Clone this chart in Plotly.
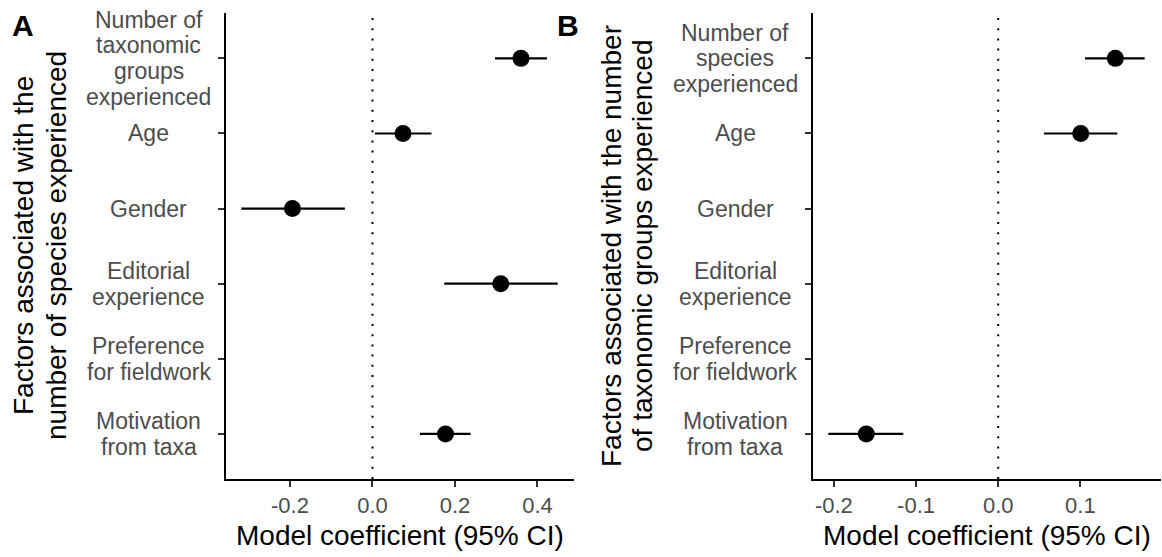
import plotly.graph_objects as go

# ---- data -------------------------------------------------------------
# Panel A: predictors of the number of species experienced
a_labels = ["Number of\ntaxonomic\ngroups\nexperienced", "Age", "Gender",
            "Editorial\nexperience", "Preference\nfor fieldwork", "Motivation\nfrom taxa"]
a_est = [0.360, 0.074, -0.194, 0.311, None, 0.177]
a_lo = [0.297, 0.006, -0.318, 0.174, None, 0.115]
a_hi = [0.423, 0.143, -0.067, 0.449, None, 0.238]

# Panel B: predictors of the number of taxonomic groups experienced
b_labels = ["Number of\nspecies\nexperienced", "Age", "Gender",
            "Editorial\nexperience", "Preference\nfor fieldwork", "Motivation\nfrom taxa"]
b_est = [0.1425, 0.1004, None, None, None, -0.1605]
b_lo = [0.1056, 0.0557, None, None, None, -0.2067]
b_hi = [0.1782, 0.1449, None, None, None, -0.1155]

a_ticks = [-0.2, 0.0, 0.2, 0.4]
a_ticktext = ["-0.2", "0.0", "0.2", "0.4"]
b_ticks = [-0.2, -0.1, 0.0, 0.1]
b_ticktext = ["-0.2", "-0.1", "0.0", "0.1"]

a_ytitle = ["Factors associated with the", "number of species experienced"]
b_ytitle = ["Factors associated with the number", "of taxonomic groups experienced"]
xtitle = "Model coefficient (95% CI)"

# ---- layout constants ---------------------------------------------------
W, H = 1162, 557
FONT = "Liberation Sans, Arial, Helvetica, sans-serif"
GREY = "#4D4D4D"
TICK_SIZE = 23
XTICK_SIZE = 22
TITLE_SIZE = 28
LINE_STEP = 25.8  # px between lines of a multi-line tick label


def px_x(p):
    return p / W


def px_y(p):
    return 1 - p / H


def expanded(lo, hi):
    vals_lo = [v for v in lo if v is not None]
    vals_hi = [v for v in hi if v is not None]
    mn, mx = min(vals_lo), max(vals_hi)
    pad = 0.05 * (mx - mn)
    return [mn - pad, mx + pad]


n = len(a_labels)
ypos = [n - i for i in range(n)]  # first label at the top

fig = go.Figure()
annotations = []
shapes = []

panels = [
    dict(est=a_est, lo=a_lo, hi=a_hi, labels=a_labels, xa="x", ya="y",
         dom=[225.5, 573.5], ticks=a_ticks, ticktext=a_ticktext,
         label_x=148.5, ytitle=a_ytitle, ytitle_x=[24, 57], letter="A", letter_x=23),
    dict(est=b_est, lo=b_lo, hi=b_hi, labels=b_labels, xa="x2", ya="y2",
         dom=[812.5, 1160.5], ticks=b_ticks, ticktext=b_ticktext,
         label_x=735.3, ytitle=b_ytitle, ytitle_x=[612, 643], letter="B", letter_x=567.5),
]

for k, p in enumerate(panels):
    ys = [y for y, e in zip(ypos, p["est"]) if e is not None]
    es = [e for e in p["est"] if e is not None]
    plus = [h - e for e, h in zip(p["est"], p["hi"]) if e is not None]
    minus = [e - l for e, l in zip(p["est"], p["lo"]) if e is not None]
    fig.add_trace(go.Scatter(
        x=es, y=ys, mode="markers", xaxis=p["xa"], yaxis=p["ya"],
        marker=dict(size=17, color="black", line=dict(width=0)),
        error_x=dict(type="data", symmetric=False, array=plus, arrayminus=minus,
                     color="black", thickness=2.2, width=0),
        showlegend=False, hoverinfo="skip",
    ))

    # dotted reference line at zero
    shapes.append(dict(type="line", xref=p["xa"], yref=p["ya"] + " domain",
                       x0=0, x1=0, y0=0, y1=1,
                       line=dict(color="black", width=2, dash="2px,8.2px"), layer="below"))

    # category labels, centred on each other and stacked line by line
    for y, lab in zip(ypos, p["labels"]):
        lines = lab.split("\n")
        m = len(lines)
        for i, ln in enumerate(lines):
            annotations.append(dict(
                text=ln, xref="paper", yref=p["ya"], x=px_x(p["label_x"]), y=y,
                xanchor="center", yanchor="middle", showarrow=False,
                yshift=-(i - (m - 1) / 2) * LINE_STEP,
                font=dict(family=FONT, size=TICK_SIZE, color=GREY)))

    # y-axis title (two rotated lines)
    for xx, ln in zip(p["ytitle_x"], p["ytitle"]):
        annotations.append(dict(
            text=ln, xref="paper", yref="paper", x=px_x(xx), y=px_y(246),
            xanchor="center", yanchor="middle", textangle=-90, showarrow=False,
            font=dict(family=FONT, size=TITLE_SIZE, color="black")))

    # x-axis title
    annotations.append(dict(
        text=xtitle, xref="paper", yref="paper",
        x=px_x((p["dom"][0] + p["dom"][1]) / 2), y=px_y(535),
        xanchor="center", yanchor="middle", showarrow=False,
        font=dict(family=FONT, size=TITLE_SIZE, color="black")))

    # panel letter
    annotations.append(dict(
        text="<b>%s</b>" % p["letter"], xref="paper", yref="paper",
        x=px_x(p["letter_x"]), y=px_y(25), xanchor="center", yanchor="middle",
        showarrow=False, font=dict(family=FONT, size=30, color="black")))

    xname = "xaxis" if k == 0 else "xaxis2"
    yname = "yaxis" if k == 0 else "yaxis2"
    fig.update_layout(**{
        xname: dict(domain=[px_x(p["dom"][0]), px_x(p["dom"][1])],
                    range=expanded(p["lo"], p["hi"]), anchor=p["ya"],
                    tickvals=p["ticks"], ticktext=p["ticktext"],
                    showline=True, linecolor="black", linewidth=2,
                    ticks="outside", ticklen=6, tickwidth=2, tickcolor="#333333",
                    showgrid=False, zeroline=False,
                    tickfont=dict(family=FONT, size=XTICK_SIZE, color=GREY)),
        yname: dict(domain=[px_y(479), px_y(13.3)], range=[0.4, n + 0.6],
                    anchor=p["xa"], tickvals=ypos, showticklabels=False,
                    showline=True, linecolor="black", linewidth=2,
                    ticks="outside", ticklen=6, tickwidth=2, tickcolor="#333333",
                    showgrid=False, zeroline=False),
    })

fig.update_layout(
    width=W, height=H, margin=dict(l=0, r=0, t=0, b=0),
    plot_bgcolor="white", paper_bgcolor="white",
    annotations=annotations, shapes=shapes,
    font=dict(family=FONT),
)

fig.write_html("out.html")
